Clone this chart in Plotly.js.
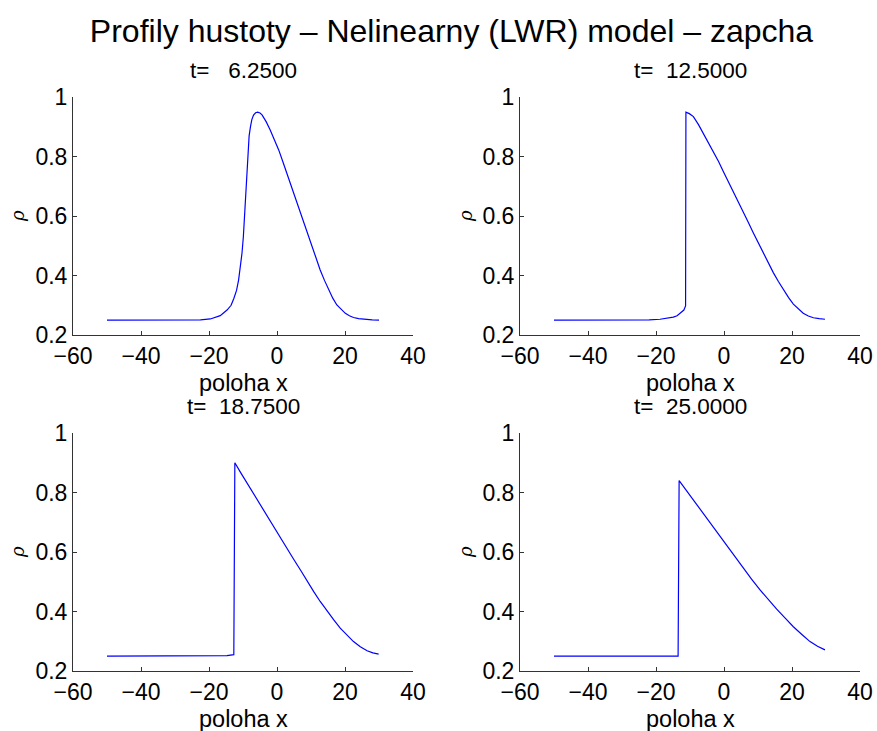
<!DOCTYPE html>
<html>
<head>
<meta charset="utf-8">
<script src="https://cdn.plot.ly/plotly-3.0.1.min.js"></script>
<style>html,body{margin:0;padding:0;background:#fff;}#chart{width:877px;height:731px;}</style>
</head>
<body>
<div id="chart"></div>
<script>
// t = 6.25
const x1 = [-50, -40, -30, -22.5, -19.6, -16.7, -14.7, -13.5, -12.7, -11.9, -11.3, -10.8, -10.3, -9.9, -9.6, -9.3, -9.0, -8.7, -8.5, -8.2, -7.8, -7.4, -6.9, -6.3, -5.7, -5.0, -4.4, -3.2, -2.0, -0.8, 0.5, 1.7, 2.9, 4.2, 5.4, 6.6, 7.8, 9.1, 10.3, 11.5, 12.7, 14, 15.2, 16.4, 17.6, 18.9, 20.1, 21.3, 22.5, 24, 26, 28, 30];
const y1 = [0.25, 0.25, 0.25, 0.251, 0.254, 0.265, 0.284, 0.30, 0.323, 0.35, 0.385, 0.425, 0.475, 0.53, 0.587, 0.655, 0.722, 0.795, 0.834, 0.87, 0.901, 0.925, 0.94, 0.948, 0.95, 0.947, 0.941, 0.918, 0.89, 0.858, 0.823, 0.784, 0.744, 0.702, 0.66, 0.618, 0.576, 0.534, 0.492, 0.454, 0.419, 0.383, 0.351, 0.324, 0.301, 0.285, 0.273, 0.265, 0.259, 0.255, 0.252, 0.251, 0.25];
// t = 12.5
const x2 = [-50, -40, -30, -25, -22, -18.8, -16.5, -14.9, -13.8, -12.9, -12.3, -11.8, -11.3, -11.2, -10.2, -9, -7.5, -6.1, -4.6, -3.1, -1.6, -0.2, 1.3, 2.7, 4.2, 5.7, 7.1, 8.6, 10.1, 11.6, 13, 14.5, 16, 17.5, 19, 20.4, 21.9, 23.3, 24.8, 26.3, 28, 29.7];
const y2 = [0.25, 0.25, 0.25, 0.25, 0.251, 0.253, 0.256, 0.26, 0.265, 0.273, 0.279, 0.284, 0.298, 0.95, 0.945, 0.935, 0.908, 0.879, 0.849, 0.817, 0.784, 0.75, 0.716, 0.682, 0.649, 0.615, 0.58, 0.544, 0.509, 0.475, 0.442, 0.41, 0.38, 0.351, 0.326, 0.304, 0.287, 0.273, 0.264, 0.258, 0.255, 0.253];
// t = 18.75
const x3 = [-50, -40, -30, -19.6, -14.7, -12.7, -12.4, -10.6, -8.8, -6.9, -4.9, -3, -1, 1, 2.9, 4.9, 6.9, 8.8, 10.8, 12.7, 14.7, 16.7, 18.6, 20.6, 22.5, 24.5, 26.5, 28.2, 29.9];
const y3 = [0.25, 0.25, 0.25, 0.25, 0.252, 0.255, 0.901, 0.866, 0.832, 0.795, 0.759, 0.723, 0.688, 0.65, 0.613, 0.576, 0.54, 0.503, 0.467, 0.434, 0.402, 0.372, 0.344, 0.32, 0.299, 0.282, 0.268, 0.261, 0.257];
// t = 25
const x4 = [-50, -40, -30, -20, -13.5, -13.2, -11.1, -9, -6.5, -4.1, -1.6, 0.8, 3.2, 5.7, 8.1, 10.6, 13, 15.5, 18, 20.4, 22.9, 25.3, 27.5, 29.7];
const y4 = [0.25, 0.25, 0.25, 0.25, 0.25, 0.841, 0.808, 0.776, 0.737, 0.697, 0.659, 0.621, 0.584, 0.546, 0.509, 0.473, 0.44, 0.408, 0.378, 0.349, 0.323, 0.299, 0.283, 0.271];

const mainTitle = 'Profily hustoty \u2013 Nelinearny (LWR) model \u2013 zapcha';
const subTitles = ['t=\u00a0\u00a0\u00a06.2500', 't=\u00a0\u00a012.5000', 't=\u00a0\u00a018.7500', 't=\u00a0\u00a025.0000'];
const xLabel = 'poloha x';
const yLabel = '\u03c1';
const xTicks = [-60, -40, -20, 0, 20, 40];
const yTicks = [0.2, 0.4, 0.6, 0.8, 1];

const FONT = 'Liberation Sans, Arial, Helvetica, sans-serif';
const lineStyle = {color: '#0000ff', width: 1.2};
const xs = [x1, x2, x3, x4], ys = [y1, y2, y3, y4];
const data = xs.map((x, i) => ({
  x: x, y: ys[i], type: 'scatter', mode: 'lines', line: lineStyle,
  xaxis: i === 0 ? 'x' : 'x' + (i + 1), yaxis: i === 0 ? 'y' : 'y' + (i + 1),
  hoverinfo: 'skip'
}));

const xd = [[73/877, 413/877], [520/877, 860/877]];
const yd = [[1 - 335/731, 1 - 97.3/731], [1 - 671/731, 1 - 433.3/731]];

function xax(col, anchor) {
  return {domain: xd[col], anchor: anchor, range: [-60, 40], tickvals: xTicks,
    ticks: 'inside', ticklen: 4, tickcolor: '#333', showline: true, linecolor: '#333', linewidth: 1,
    showgrid: false, zeroline: false, tickfont: {family: FONT, size: 23, color: '#000'}, fixedrange: true};
}
function yax(row, anchor) {
  return {domain: yd[row], anchor: anchor, range: [0.2, 1], tickvals: yTicks,
    ticks: 'inside', ticklen: 4, tickcolor: '#333', showline: true, linecolor: '#333', linewidth: 1,
    showgrid: false, zeroline: false, tickfont: {family: FONT, size: 23, color: '#000'}, fixedrange: true};
}

const ann = [];
const cx = [243/877, 690/877];
const titleY = [1 - 70/731, 1 - 406/731];
const xlabY = [1 - 383/731, 1 - 719/731];
const ylabX = [17/877, 465/877];
const ylabY = [1 - 216/731, 1 - 552/731];
for (let i = 0; i < 4; i++) {
  const c = i % 2, r = Math.floor(i / 2);
  ann.push({text: subTitles[i], xref: 'paper', yref: 'paper', x: cx[c], y: titleY[r], xanchor: 'center', yanchor: 'middle', showarrow: false, font: {family: FONT, size: 22.5, color: '#000'}});
  ann.push({text: xLabel, xref: 'paper', yref: 'paper', x: cx[c], y: xlabY[r], xanchor: 'center', yanchor: 'middle', showarrow: false, font: {family: FONT, size: 23.5, color: '#000'}});
  ann.push({text: '<i>' + yLabel + '</i>', xref: 'paper', yref: 'paper', x: ylabX[c], y: ylabY[r], xanchor: 'center', yanchor: 'middle', textangle: -90, showarrow: false, font: {family: 'DejaVu Serif, serif', size: 18, color: '#000'}});
}

const layout = {
  width: 877, height: 731, margin: {l: 0, r: 0, t: 0, b: 0},
  paper_bgcolor: '#fff', plot_bgcolor: '#fff', showlegend: false,
  title: {text: mainTitle, x: 451.5/877, xanchor: 'center', y: 1 - 31/731, yanchor: 'middle', font: {family: FONT, size: 32, color: '#000'}},
  xaxis: xax(0, 'y'), yaxis: yax(0, 'x'),
  xaxis2: xax(1, 'y2'), yaxis2: yax(0, 'x2'),
  xaxis3: xax(0, 'y3'), yaxis3: yax(1, 'x3'),
  xaxis4: xax(1, 'y4'), yaxis4: yax(1, 'x4'),
  annotations: ann
};
Plotly.newPlot('chart', data, layout, {displayModeBar: false, staticPlot: true});
</script>
</body>
</html>
